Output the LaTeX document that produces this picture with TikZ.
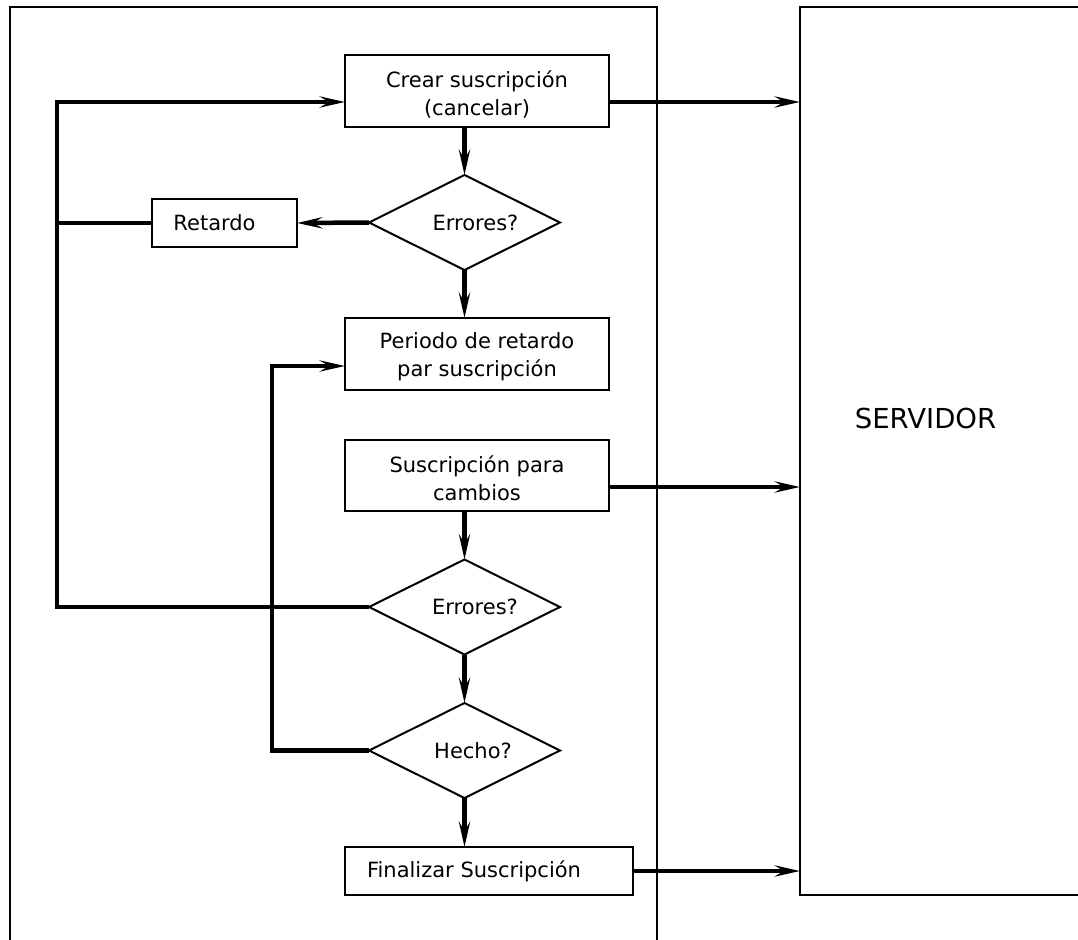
\documentclass[tikz,border=0pt]{standalone}
\usepackage{fontspec}
\setmainfont{DejaVu Sans}
\usetikzlibrary{shapes.geometric,arrows.meta}

\tikzset{
  every node/.style={font=\fontsize{21}{28}\selectfont},
  panel/.style={draw, line width=2pt, inner sep=0pt, outer sep=0pt},
  stepbox/.style={draw, line width=2.6pt, inner sep=0pt, outer sep=0pt},
  boxtext/.style={label={[align=center, yshift=-3pt]center:#1}},
  decision/.style={diamond, draw, line width=2pt, aspect=2, inner sep=0pt, outer sep=0pt,
    minimum width=191pt, minimum height=95pt},
  wire/.style={line width=4.5pt},
  conn/.style={wire, -{Stealth[length=25pt,width=11pt,inset=9pt]}},
}

\begin{document}
\begin{tikzpicture}[x=1pt, y=-1pt]
  \useasboundingbox (0,0) rectangle (1078,939);
  \clip (0,0) rectangle (1078,939);

  % client area and server column
  \node[panel, minimum width=647pt, minimum height=960pt] (client) at (333.5,487) {};
  \node[panel, minimum width=320pt, minimum height=888pt,
        label={[xshift=-34.5pt, yshift=33pt, font=\fontsize{27.5}{32}\selectfont]center:SERVIDOR}]
        (srv) at (960,451) {};

  % process steps
  \node[stepbox, minimum width=264pt, minimum height=72pt,
        boxtext={Crear suscripción\\(cancelar)}] (crear) at (477,91) {};
  \node[decision, label={[xshift=11pt]center:Errores?}] (d1) at (464.5,222.5) {};
  \node[stepbox, minimum width=145pt, minimum height=48pt,
        label={[xshift=-10pt]center:Retardo}] (retardo) at (224.5,223) {};
  \node[stepbox, minimum width=264pt, minimum height=72pt,
        boxtext={Periodo de retardo\\par suscripción}] (periodo) at (477,354) {};
  \node[stepbox, minimum width=264pt, minimum height=71pt,
        boxtext={Suscripción para\\cambios}] (cambios) at (477,475.5) {};
  \node[decision, label={[xshift=10.5pt]center:Errores?}] (d2) at (464.5,607) {};
  \node[decision, label={[xshift=8.5pt]center:Hecho?}] (d3) at (464.5,750.5) {};
  \node[stepbox, minimum width=288pt, minimum height=48pt,
        label={[xshift=-15pt]center:Finalizar Suscripción}] (fin) at (489,871) {};

  % loop corners
  \coordinate (outer) at (57,102);
  \coordinate (inner) at (272,366);

  % main flow
  \draw[conn] (crear.south -| d1.north) -- (d1.north);
  \draw[conn] (d1.south) -- (periodo.north -| d1.south);
  \draw[conn] (cambios.south -| d2.north) -- (d2.north);
  \draw[conn] (d2.south) -- (d3.north);
  \draw[conn] (d3.south) -- (fin.north -| d3.south);

  % retries
  \draw[conn] (d1.west) -- (retardo.east);
  \draw[wire] (retardo.west) -- (retardo.west -| outer);
  \draw[conn] (d2.west) -| (outer) |- ([yshift=-11pt]crear.west);
  \draw[conn] (d3.west) -| (inner) |- ([yshift=-12pt]periodo.west);

  % requests to the server
  \draw[conn] ([yshift=-11pt]crear.east) -- ([yshift=-11pt]crear.east -| srv.west);
  \draw[conn] ([yshift=-11.5pt]cambios.east) -- ([yshift=-11.5pt]cambios.east -| srv.west);
  \draw[conn] (fin.east) -- (fin.east -| srv.west);
\end{tikzpicture}
\end{document}
